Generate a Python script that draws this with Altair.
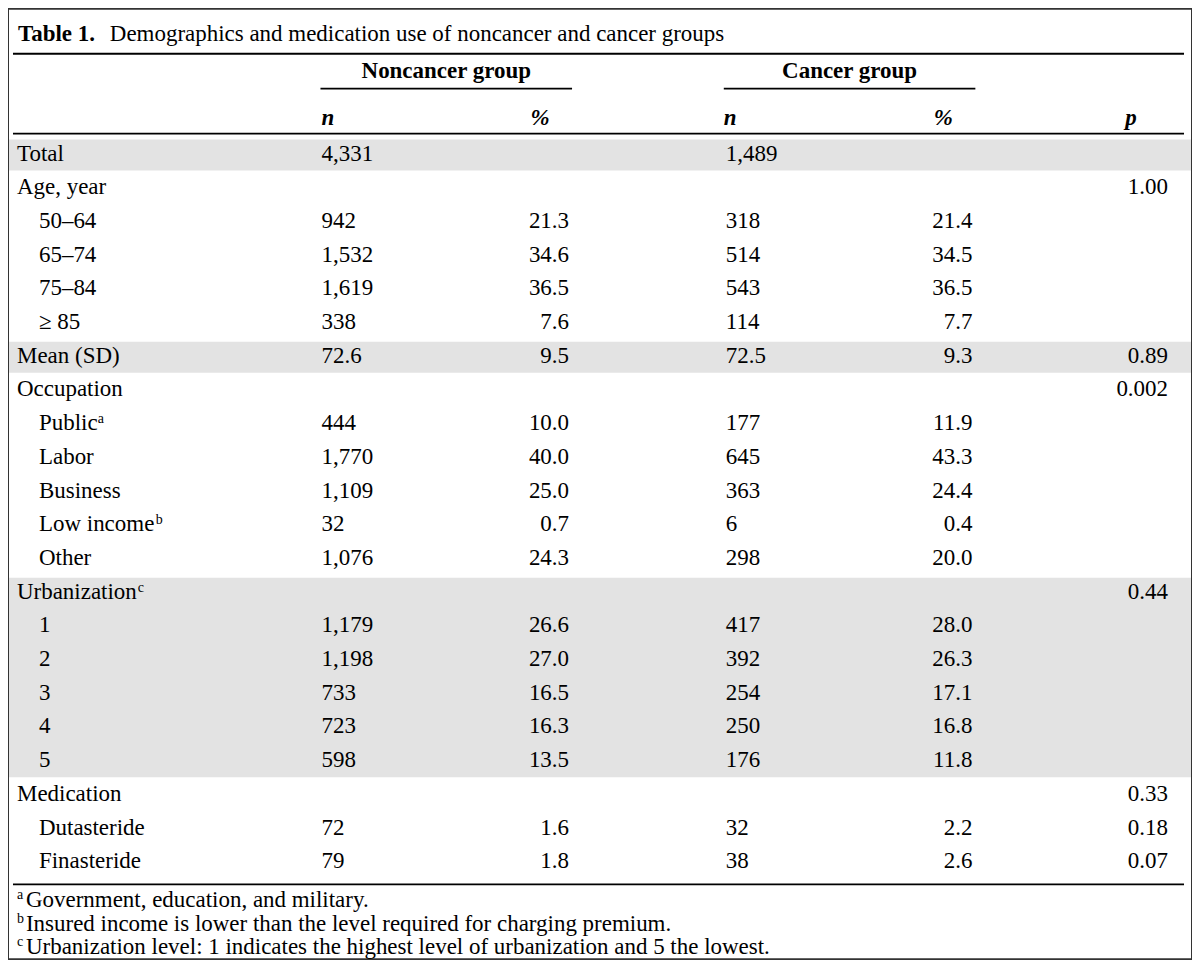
import altair as alt
import pandas as pd

# ---------------- data ----------------
title_bold = "Table 1."
title_text = "Demographics and medication use of noncancer and cancer groups"
group_names = ["Noncancer group", "Cancer group"]
sub_headers = ["n", "%", "n", "%", "p"]

row_labels = ["Total", "Age, year", "50–64", "65–74", "75–84", "≥ 85", "Mean (SD)",
              "Occupation", "Public", "Labor", "Business", "Low income", "Other",
              "Urbanization", "1", "2", "3", "4", "5",
              "Medication", "Dutasteride", "Finasteride"]
row_level = [0, 0, 1, 1, 1, 1, 0,
             0, 1, 1, 1, 1, 1,
             0, 1, 1, 1, 1, 1,
             0, 1, 1]
noncancer_n = ["4,331", "", "942", "1,532", "1,619", "338", "72.6",
               "", "444", "1,770", "1,109", "32", "1,076",
               "", "1,179", "1,198", "733", "723", "598",
               "", "72", "79"]
noncancer_pct = ["", "", "21.3", "34.6", "36.5", "7.6", "9.5",
                 "", "10.0", "40.0", "25.0", "0.7", "24.3",
                 "", "26.6", "27.0", "16.5", "16.3", "13.5",
                 "", "1.6", "1.8"]
cancer_n = ["1,489", "", "318", "514", "543", "114", "72.5",
            "", "177", "645", "363", "6", "298",
            "", "417", "392", "254", "250", "176",
            "", "32", "38"]
cancer_pct = ["", "", "21.4", "34.5", "36.5", "7.7", "9.3",
              "", "11.9", "43.3", "24.4", "0.4", "20.0",
              "", "28.0", "26.3", "17.1", "16.8", "11.8",
              "", "2.2", "2.6"]
p_values = ["", "1.00", "", "", "", "", "0.89",
            "0.002", "", "", "", "", "",
            "0.44", "", "", "", "", "",
            "0.33", "0.18", "0.07"]
label_marks = {"Public": "a", "Low income": "b", "Urbanization": "c"}
shaded_rows = ["Total", "Mean (SD)", "Urbanization", "1", "2", "3", "4", "5"]
footnote_marks = ["a", "b", "c"]
footnotes = ["Government, education, and military.",
             "Insured income is lower than the level required for charging premium.",
             "Urbanization level: 1 indicates the highest level of urbanization and 5 the lowest."]

# ---------------- layout ----------------
W, H = 1186, 952
OFF = 8
FONT = "Liberation Serif"
FS = 23
SUP_FS = 14
ROW0, ROW_H = 153, 33.76
col = {"label0": 17, "label1": 39, "nc_n": 322, "nc_pct": 570,
       "c_n": 727, "c_pct": 974, "p": 1170}
sub_x = [322, 541, 725, 945, 1133]
sub_align = ["left", "center", "left", "center", "center"]
group_x = [447, 851]
group_line = [(321, 573), (725, 977)]
sup_dx = {"Public": 59, "Low income": 117, "Urbanization": 121}
Y_TITLE, Y_TLINE, Y_GROUP, Y_GLINE, Y_SUB, Y_HLINE = 33, 53, 70, 88, 117, 133
Y_BLINE = 885
Y_FOOT = [901, 924.5, 948]
RULE_X = (13, 1186)

xs = alt.Scale(domain=[OFF, OFF + W], nice=False, zero=False)
ys = alt.Scale(domain=[OFF, OFF + H], nice=False, zero=False, reverse=True)


def enc(mark, x="x", y="y", x2=None, y2=None, text=True):
    e = dict(x=alt.X(f"{x}:Q", scale=xs, axis=None),
             y=alt.Y(f"{y}:Q", scale=ys, axis=None))
    if x2:
        e["x2"] = alt.X2(f"{x2}:Q")
    if y2:
        e["y2"] = alt.Y2(f"{y2}:Q")
    if text:
        e["text"] = alt.Text("text:N")
    return mark.encode(**e)


def text_layer(rows, align, weight="normal", style="normal", size=FS, baseline="middle"):
    df = pd.DataFrame(rows, columns=["x", "y", "text"])
    df = df[df["text"] != ""]
    m = alt.Chart(df).mark_text(align=align, baseline=baseline, font=FONT, fontSize=size,
                                fontWeight=weight, fontStyle=style, color="#000")
    return enc(m)


row_y = [ROW0 + i * ROW_H for i in range(len(row_labels))]

# shading blocks (contiguous shaded rows merged)
blocks = []
for i, lab in enumerate(row_labels):
    if lab in shaded_rows:
        if blocks and blocks[-1][2] == i - 1:
            blocks[-1][1] = row_y[i] + 17
            blocks[-1][2] = i
        else:
            blocks.append([row_y[i] - 14, row_y[i] + 17, i])
shade_df = pd.DataFrame({"x": OFF + 1, "x2": OFF + W - 1,
                         "y": [b[0] for b in blocks], "y2": [b[1] for b in blocks]})
shade = enc(alt.Chart(shade_df).mark_rect(color="#e3e3e3"), x2="x2", y2="y2", text=False)

rules_df = pd.DataFrame({
    "x": [RULE_X[0], RULE_X[0], RULE_X[0], group_line[0][0], group_line[1][0]],
    "x2": [RULE_X[1], RULE_X[1], RULE_X[1], group_line[0][1], group_line[1][1]],
    "y": [Y_TLINE, Y_HLINE, Y_BLINE, Y_GLINE, Y_GLINE],
})
rules = enc(alt.Chart(rules_df).mark_rule(color="#000", strokeWidth=1.8), x2="x2", text=False)

layers = [shade, rules]
layers.append(text_layer([(18, Y_TITLE, title_bold)], "left", weight="bold"))
layers.append(text_layer([(110, Y_TITLE, title_text)], "left"))
layers.append(text_layer([(gx, Y_GROUP, g) for gx, g in zip(group_x, group_names)],
                         "center", weight="bold"))
for a in ["left", "center"]:
    layers.append(text_layer([(sx, Y_SUB, t) for sx, t, al in zip(sub_x, sub_headers, sub_align) if al == a],
                             a, weight="bold", style="italic"))

layers.append(text_layer([(col["label1"] if lv else col["label0"], y, lab)
                          for lab, lv, y in zip(row_labels, row_level, row_y)], "left"))
layers.append(text_layer([(col["nc_n"], y, v) for v, y in zip(noncancer_n, row_y)] +
                         [(col["c_n"], y, v) for v, y in zip(cancer_n, row_y)], "left"))
layers.append(text_layer([(col["nc_pct"], y, v) for v, y in zip(noncancer_pct, row_y)] +
                         [(col["c_pct"], y, v) for v, y in zip(cancer_pct, row_y)] +
                         [(col["p"], y, v) for v, y in zip(p_values, row_y)], "right"))

sups = []
for lab, lv, y in zip(row_labels, row_level, row_y):
    if lab in label_marks:
        x0 = col["label1"] if lv else col["label0"]
        sups.append((x0 + sup_dx[lab], y, label_marks[lab]))
for m, fy in zip(footnote_marks, Y_FOOT):
    sups.append((17, fy - 1, m))
layers.append(text_layer(sups, "left", size=SUP_FS, baseline="alphabetic"))
layers.append(text_layer([(26, fy, t) for t, fy in zip(footnotes, Y_FOOT)], "left"))

chart = alt.layer(*layers).properties(
    width=W, height=H, padding=0, background="#ffffff"
).configure_view(stroke="#333333", strokeWidth=2)

chart.save("out.html", embed_options={"renderer": "svg", "actions": False})
